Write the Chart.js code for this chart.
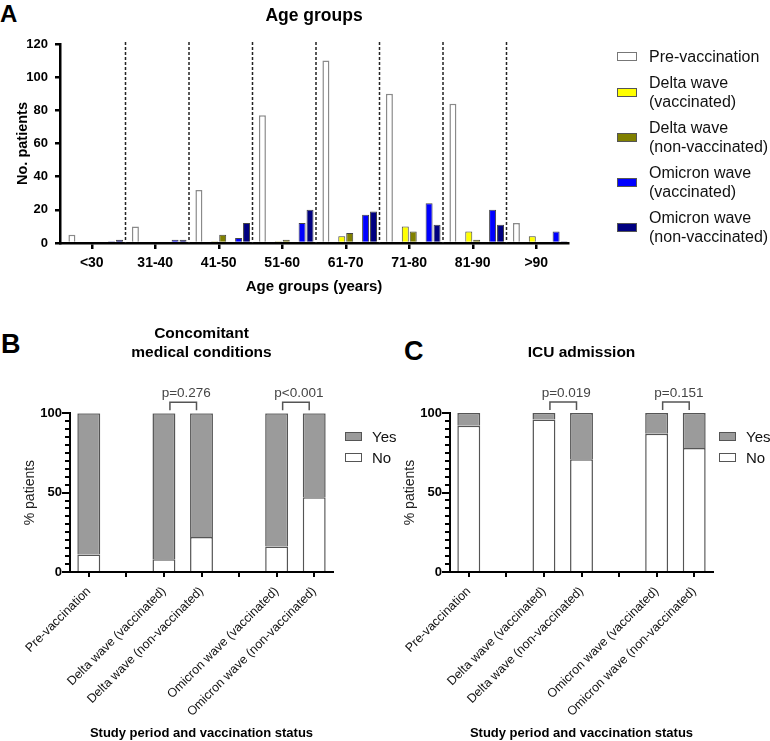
<!DOCTYPE html>
<html>
<head>
<title>Age groups, comorbidities and ICU admission by study period</title>
<script src="https://cdn.jsdelivr.net/npm/chart.js"></script>
<style>
    body { margin: 0; background: #fff; font-family: "Liberation Sans", Arial, sans-serif; }
    #page { position: relative; width: 770px; height: 741px; overflow: hidden; }
    canvas, .legend, .letter { position: absolute; }
    .letter { font-weight: bold; line-height: 1; color: #000; }
    .legend { color: #111; }
    .legend .item { display: flex; align-items: center; }
    .legend .swatch { flex: none; border: 1px solid #555; box-sizing: border-box; }
    #legendA { left: 617px; top: 47px; font-size: 16px; line-height: 19px; }
    #legendA .item { margin-bottom: 7px; white-space: pre-line; }
    #legendA .swatch { width: 20px; height: 9px; margin-right: 12px; }
    .legendYN { font-size: 15px; line-height: 21px; top: 426px; }
    .legendYN .swatch { width: 17px; height: 9px; margin-right: 10px; }
</style>
</head>
<body>
<div id="page">
    <div class="letter" style="left:0px; top:2px; font-size:24px;">A</div>
    <div class="letter" style="left:1px; top:331px; font-size:27px;">B</div>
    <div class="letter" style="left:404px; top:338px; font-size:27px;">C</div>

    <canvas id="chartA" width="770" height="300" style="left:0; top:0;"></canvas>
    <div id="legendA" class="legend"></div>

    <canvas id="chartB" width="385" height="421" style="left:0; top:320px;"></canvas>
    <div id="legendB" class="legend legendYN" style="left:345px;"></div>

    <canvas id="chartC" width="385" height="421" style="left:380px; top:320px;"></canvas>
    <div id="legendC" class="legend legendYN" style="left:719px;"></div>
</div>

<script>
    // panel A: number of patients per age group
    const ageGroups = ['<30', '31-40', '41-50', '51-60', '61-70', '71-80', '81-90', '>90'];
    const preVaccination = [5, 10, 32, 77, 110, 90, 84, 12];
    const deltaVaccinated = [0, 0, 1, 1, 4, 10, 7, 4];
    const deltaNonVaccinated = [0, 0, 5, 2, 6, 7, 2, 0];
    const omicronVaccinated = [1, 2, 3, 12, 17, 24, 20, 7];
    const omicronNonVaccinated = [2, 2, 12, 20, 19, 11, 11, 1];
    const countTicks = [0, 20, 40, 60, 80, 100, 120];

    // panels B and C: % patients, blank slots separate the periods
    const periods = ['Pre-vaccination', '', 'Delta wave (vaccinated)', 'Delta wave (non-vaccinated)',
                     '', 'Omicron wave (vaccinated)', 'Omicron wave (non-vaccinated)'];
    const comorbidityNo = [11, null, 8, 22, null, 16, 47];
    const comorbidityYes = [89, null, 92, 78, null, 84, 53];
    const icuNo = [92, null, 96, 71, null, 87, 78];
    const icuYes = [8, null, 4, 29, null, 13, 22];
    const comorbidityP = ['p=0.276', 'p<0.001'];
    const icuP = ['p=0.019', 'p=0.151'];
    const comparedPairs = [[2, 3], [5, 6]];
    const percentTicks = [0, 5, 10, 15, 20, 25, 30, 35, 40, 45, 50, 55, 60, 65, 70, 75, 80, 85, 90, 95, 100];
    const percentLabels = [0, 50, 100];

    const FONT = '"Liberation Sans", Arial, sans-serif';
    Chart.defaults.font.family = FONT;
    Chart.defaults.color = '#000';

    const seriesA = [
        { label: 'Pre-vaccination', data: preVaccination, fill: '#ffffff', border: '#8a8a8a', width: 1.5 },
        null,
        { label: 'Delta wave\n(vaccinated)', data: deltaVaccinated, fill: '#ffff00', border: '#444', width: 1 },
        { label: 'Delta wave\n(non-vaccinated)', data: deltaNonVaccinated, fill: '#808000', border: '#444', width: 1 },
        null,
        { label: 'Omicron wave\n(vaccinated)', data: omicronVaccinated, fill: '#0000ff', border: '#444', width: 1 },
        { label: 'Omicron wave\n(non-vaccinated)', data: omicronNonVaccinated, fill: '#000080', border: '#444', width: 1 }
    ];

    // empty slot in front of each group + between the waves, like the original spacing
    const datasetsA = [{ label: '', data: ageGroups.map(() => null) }].concat(seriesA.map(s => s
        ? { label: s.label, data: s.data, backgroundColor: s.fill, borderColor: s.border, borderWidth: s.width }
        : { label: '', data: ageGroups.map(() => null) }
    ));

    const separatorPlugin = {
        id: 'separators',
        beforeDatasetsDraw(chart) {
            const { ctx, chartArea } = chart;
            const x = chart.scales.x;
            ctx.save();
            ctx.setLineDash([3, 2]);
            ctx.strokeStyle = '#222';
            ctx.lineWidth = 1.5;
            for (let i = 0; i < ageGroups.length - 1; i++) {
                const px = (x.getPixelForValue(i) + x.getPixelForValue(i + 1)) / 2 + 2;
                ctx.beginPath();
                ctx.moveTo(px, chartArea.top - 2);
                ctx.lineTo(px, chartArea.bottom);
                ctx.stroke();
            }
            ctx.restore();
        }
    };

    new Chart(document.getElementById('chartA'), {
        type: 'bar',
        data: { labels: ageGroups, datasets: datasetsA },
        options: {
            responsive: false,
            animation: false,
            devicePixelRatio: 1,
            datasets: { bar: { barPercentage: 0.88, categoryPercentage: 1 } },
            layout: { padding: { left: 0, right: 202, top: 0, bottom: 0 } },
            plugins: {
                legend: { display: false },
                tooltip: { enabled: false },
                title: {
                    display: true, fullSize: false, text: 'Age groups', color: '#000',
                    font: { size: 17.5, weight: 'bold', lineHeight: 1.2 },
                    padding: { top: 6, bottom: 17 }
                }
            },
            scales: {
                x: {
                    ticks: { color: '#000', font: { size: 14, weight: 'bold' }, padding: 6, minRotation: 0, maxRotation: 0, autoSkip: false },
                    grid: { offset: false, drawOnChartArea: false, tickLength: 6, color: '#000', lineWidth: 2.5 },
                    border: { color: '#000', width: 2.5 },
                    title: { display: true, text: 'Age groups (years)', color: '#000', font: { size: 15, weight: 'bold' }, padding: { top: 0, bottom: 4 } },
                    afterFit(s) { s.height = 57; }
                },
                y: {
                    min: 0, max: 120,
                    afterBuildTicks(s) { s.ticks = countTicks.map(v => ({ value: v })); },
                    ticks: { color: '#000', font: { size: 13, weight: 'bold' }, padding: 7 },
                    grid: { drawOnChartArea: false, tickLength: 5, color: '#000', lineWidth: 2.5 },
                    border: { color: '#000', width: 2.5 },
                    title: { display: true, text: 'No. patients', color: '#000', font: { size: 14.5, weight: 'bold' }, padding: { top: 14 } },
                    afterFit(s) { s.width = 60; }
                }
            }
        },
        plugins: [separatorPlugin]
    });

    const legendA = document.getElementById('legendA');
    seriesA.filter(s => s).forEach(s => {
        const item = document.createElement('div');
        item.className = 'item';
        item.innerHTML = `<span class="swatch" style="background:${s.fill}; border-color:${s.border === '#8a8a8a' ? '#777' : '#555'}"></span><span>${s.label}</span>`;
        legendA.appendChild(item);
    });

    const bracketPlugin = {
        id: 'brackets',
        afterDatasetsDraw(chart, args, opts) {
            const { ctx, chartArea } = chart;
            const x = chart.scales.x;
            ctx.save();
            opts.pairs.forEach((pair, i) => {
                const x1 = x.getPixelForValue(pair[0]) + 6;
                const x2 = x.getPixelForValue(pair[1]) - 5;
                const yTop = chartArea.top - 11;
                const yLeg = chartArea.top - 3;
                ctx.strokeStyle = '#555';
                ctx.lineWidth = 1.5;
                ctx.beginPath();
                ctx.moveTo(x1, yLeg);
                ctx.lineTo(x1, yTop);
                ctx.lineTo(x2, yTop);
                ctx.lineTo(x2, yLeg);
                ctx.stroke();
                ctx.fillStyle = '#444';
                ctx.font = '13.5px ' + FONT;
                ctx.textAlign = 'center';
                ctx.textBaseline = 'bottom';
                ctx.fillText(opts.labels[i], (x1 + x2) / 2 + 3, yTop - 2);
            });
            ctx.restore();
        }
    };

    // short ticks every 5 % on the y axis (the labelled ones are longer, from the grid)
    const minorTickPlugin = {
        id: 'minorTicks',
        afterDraw(chart) {
            const { ctx, chartArea } = chart;
            const y = chart.scales.y;
            ctx.save();
            ctx.strokeStyle = '#000';
            ctx.lineWidth = 2;
            percentTicks.forEach(v => {
                const py = Math.round(y.getPixelForValue(v));
                ctx.beginPath();
                ctx.moveTo(chartArea.left - 5, py);
                ctx.lineTo(chartArea.left, py);
                ctx.stroke();
            });
            ctx.restore();
        }
    };

    function percentChart(id, title, titlePadTop, noValues, yesValues, pLabels) {
        return new Chart(document.getElementById(id), {
            type: 'bar',
            data: {
                labels: periods,
                datasets: [
                    { label: 'No', data: noValues, backgroundColor: '#ffffff', borderColor: '#555', borderWidth: 1.5 },
                    { label: 'Yes', data: yesValues, backgroundColor: '#9b9b9b', borderColor: '#555', borderWidth: 1.5 }
                ]
            },
            options: {
                responsive: false,
                animation: false,
                devicePixelRatio: 1,
                datasets: { bar: { barPercentage: 0.61, categoryPercentage: 1 } },
                layout: { padding: { left: 0, right: 52, top: 0, bottom: 0 } },
                plugins: {
                    legend: { display: false },
                    tooltip: { enabled: false },
                    title: {
                        display: true, fullSize: false, text: title, color: '#000',
                        font: { size: 15.5, weight: 'bold', lineHeight: 1.23 },
                        padding: { top: titlePadTop, bottom: 50.5 }
                    },
                    brackets: { pairs: comparedPairs, labels: pLabels }
                },
                scales: {
                    x: {
                        stacked: true,
                        ticks: { color: '#111', font: { size: 12.5 }, padding: 7, minRotation: 45, maxRotation: 45, autoSkip: false },
                        grid: { offset: false, drawOnChartArea: false, tickLength: 5, color: '#000', lineWidth: 2 },
                        border: { color: '#000', width: 2 },
                        title: { display: true, text: 'Study period and vaccination status', color: '#000', font: { size: 13, weight: 'bold' }, padding: { top: 0, bottom: 0 } },
                        afterFit(s) { s.height = 169; }
                    },
                    y: {
                        stacked: true,
                        min: 0, max: 100,
                        afterBuildTicks(s) { s.ticks = percentTicks.map(v => ({ value: v })); },
                        ticks: { autoSkip: false, color: '#000', font: { size: 13, weight: 'bold' }, padding: 0,
                                 callback: v => (percentLabels.includes(v) ? String(v) : ' ') },
                        grid: { drawOnChartArea: false, tickLength: 8, lineWidth: 2,
                                color: c => (c.tick && percentLabels.includes(c.tick.value) ? '#000' : 'rgba(0,0,0,0)') },
                        border: { color: '#000', width: 2 },
                        title: { display: true, text: '% patients', color: '#222', font: { size: 14 }, padding: { top: 22 } },
                        afterFit(s) { s.width = 70; }
                    }
                }
            },
            plugins: [bracketPlugin, minorTickPlugin]
        });
    }

    percentChart('chartB', ['Concomitant', 'medical conditions'], 4.5, comorbidityNo, comorbidityYes, comorbidityP);
    percentChart('chartC', 'ICU admission', 23.5, icuNo, icuYes, icuP);

    ['legendB', 'legendC'].forEach(id => {
        const box = document.getElementById(id);
        [['Yes', '#9b9b9b'], ['No', '#ffffff']].forEach(([text, fill]) => {
            const item = document.createElement('div');
            item.className = 'item';
            item.innerHTML = `<span class="swatch" style="background:${fill}"></span><span>${text}</span>`;
            box.appendChild(item);
        });
    });
</script>
</body>
</html>
